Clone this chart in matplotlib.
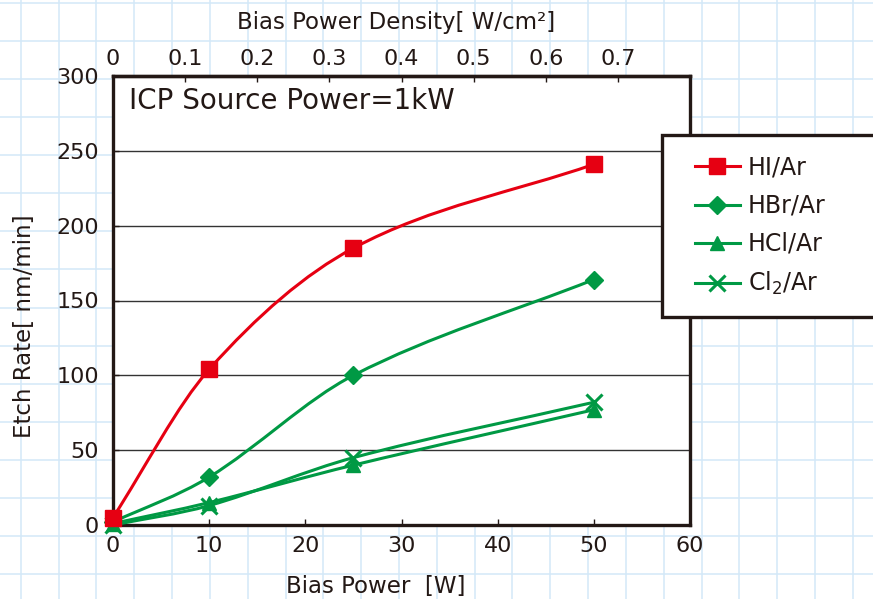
import numpy as np
import matplotlib
matplotlib.use("Agg")
import matplotlib.pyplot as plt
from matplotlib.path import Path
from matplotlib.patches import PathPatch, Rectangle
from matplotlib.lines import Line2D

plt.rcParams['font.family'] = ['DejaVu Sans']
TXT = '#231815'

# ---- data ----
bias_power = [0, 10, 25, 50]
hi_ar = [5, 104, 185, 241]
hbr_ar = [2, 32, 100, 164]
hcl_ar = [1, 15, 40, 77]
cl2_ar = [0, 13, 45, 82]
series_labels = ['HI/Ar', 'HBr/Ar', 'HCl/Ar', 'Cl$_2$/Ar']
x_ticks = [0, 10, 20, 30, 40, 50, 60]
y_ticks = [0, 50, 100, 150, 200, 250, 300]
top_ticks = [0, 0.1, 0.2, 0.3, 0.4, 0.5, 0.6, 0.7]
W_PER_DENSITY = 75.0  # 50 W <-> 0.667 W/cm2

RED = '#E60012'
GREEN = '#009944'

W, H = 873, 599
fig = plt.figure(figsize=(W / 100, H / 100), dpi=100)
fig.patch.set_facecolor('white')

# background graph-paper grid
bg = fig.add_axes([0, 0, 1, 1], zorder=-10)
bg.set_xlim(0, W)
bg.set_ylim(H, 0)
bg.axis('off')
for k in range(-1, 25):
    bg.axvline(20.7 + 37.83 * k, color='#d3e8f8', lw=1.1)
for k in range(-1, 17):
    bg.axhline(2.7 + 38.1 * k, color='#d3e8f8', lw=1.1)

ax = fig.add_axes([113 / W, 1 - 525 / H, (690 - 113) / W, (525 - 76) / H])
ax.set_facecolor('white')
ax.set_xlim(0, 60)
ax.set_ylim(0, 300)
ax.set_xticks(x_ticks)
ax.set_yticks(y_ticks)
for s in ax.spines.values():
    s.set_linewidth(2.4)
    s.set_color(TXT)
ax.tick_params(direction='in', length=4.5, width=1.0, color=TXT,
               labelsize=16, labelcolor=TXT)
ax.tick_params(axis='x', pad=8)
ax.tick_params(axis='y', pad=10)
for yv in y_ticks[1:-1]:
    ax.axhline(yv, color='#333333', lw=1.0, zorder=1)

sec = ax.secondary_xaxis('top', functions=(lambda v: v / W_PER_DENSITY,
                                           lambda d: d * W_PER_DENSITY))
sec.set_xticks(top_ticks)
sec.set_xticklabels(['0' if t == 0 else f'{t:g}' for t in top_ticks])
sec.tick_params(direction='in', length=4.5, width=1.0, color=TXT,
                labelsize=16, labelcolor=TXT, pad=5)
sec.spines['top'].set_linewidth(2.4)
sec.spines['top'].set_color(TXT)


def smooth_path(x, y):
    x = np.asarray(x, float)
    y = np.asarray(y, float)
    n = len(x)
    d = np.diff(y) / np.diff(x)
    m = np.empty(n)
    m[0] = d[0]
    m[-1] = d[-1]
    for i in range(1, n - 1):
        m[i] = (y[i + 1] - y[i - 1]) / (x[i + 1] - x[i - 1])
    verts = [(x[0], y[0])]
    codes = [Path.MOVETO]
    for i in range(n - 1):
        h = x[i + 1] - x[i]
        verts += [(x[i] + h / 3, y[i] + m[i] * h / 3),
                  (x[i + 1] - h / 3, y[i + 1] - m[i + 1] * h / 3),
                  (x[i + 1], y[i + 1])]
        codes += [Path.CURVE4] * 3
    return Path(verts, codes)


specs = [
    (cl2_ar, GREEN, 'x', 11, 2.2),
    (hcl_ar, GREEN, '^', 10, 1.0),
    (hbr_ar, GREEN, 'D', 9.5, 1.0),
    (hi_ar, RED, 's', 11.5, 1.0),
]
for vals, col, mk, ms, mew in specs:
    ax.add_patch(PathPatch(smooth_path(bias_power, vals), fill=False,
                           edgecolor=col, lw=2.2, zorder=3,
                           capstyle='round', joinstyle='round'))
for vals, col, mk, ms, mew in specs:
    ax.plot(bias_power, vals, ls='none', marker=mk, ms=ms, color=col,
            mec=col, mew=mew, zorder=4, clip_on=False)

ax.text(129 / W, 1 - 101 / H, 'ICP Source Power=1kW', transform=fig.transFigure,
        fontsize=20, color=TXT, ha='left', va='center')

fig.text(396 / W, 1 - 22 / H, 'Bias Power Density[ W/cm²]', fontsize=16.5,
         color=TXT, ha='center', va='center')
fig.text(376 / W, 1 - 586 / H, 'Bias Power  [W]', fontsize=16.5,
         color=TXT, ha='center', va='center')
fig.text(25 / W, 1 - 326 / H, 'Etch Rate[ nm/min]', fontsize=16.5,
         color=TXT, ha='center', va='center', rotation=90)

# legend box
fig.add_artist(Rectangle((662 / W, 1 - 317 / H), (890 - 662) / W, (317 - 135) / H,
                         transform=fig.transFigure, facecolor='white',
                         edgecolor=TXT, lw=2.4, zorder=5, clip_on=False))
handles = [
    Line2D([], [], color=RED, lw=2.2, marker='s', ms=11.5),
    Line2D([], [], color=GREEN, lw=2.2, marker='D', ms=9.5),
    Line2D([], [], color=GREEN, lw=2.2, marker='^', ms=10),
    Line2D([], [], color=GREEN, lw=2.2, marker='x', ms=11, mew=2.2),
]
leg = fig.legend(handles, series_labels, loc='center left',
                 bbox_to_anchor=(695 / W, 1 - 226.5 / H),
                 bbox_transform=fig.transFigure, frameon=False,
                 fontsize=17, handlelength=1.9, handletextpad=0.35,
                 labelspacing=0.6, borderpad=0, borderaxespad=0)
leg.set_zorder(6)
for t in leg.get_texts():
    t.set_color(TXT)

fig.savefig('out.png', dpi=100, facecolor='white')
